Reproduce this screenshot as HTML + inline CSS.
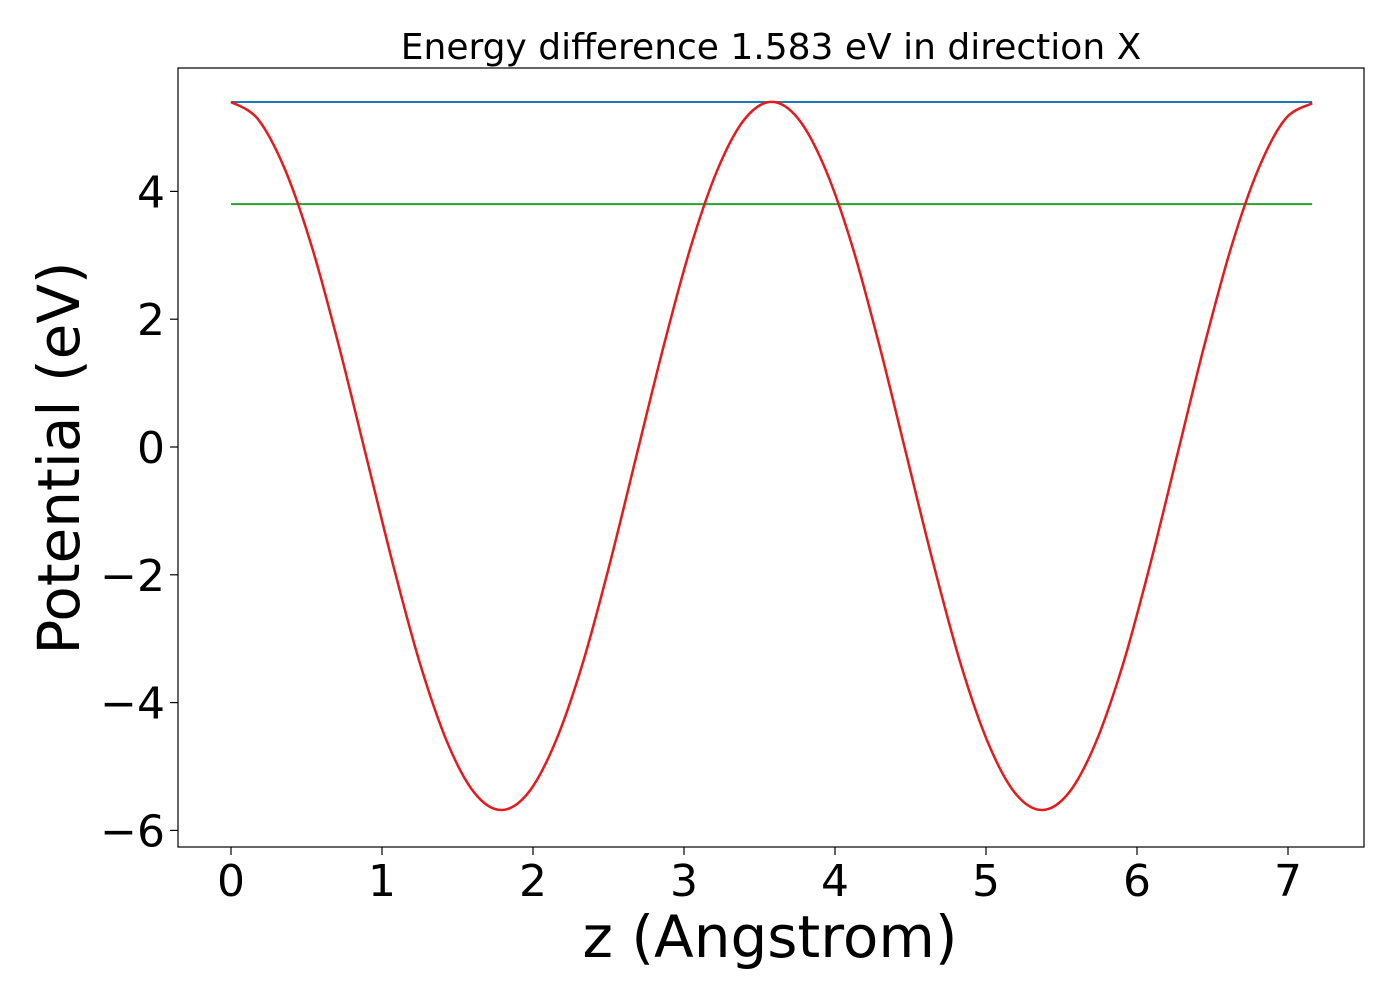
<!DOCTYPE html>
<html><head><meta charset="utf-8"><style>
html,body{margin:0;padding:0;background:#fff;}
svg text{font-family:"DejaVu Sans","Liberation Sans",sans-serif;fill:#000;}
</style></head><body>
<svg id="chart" width="1400" height="1000" viewBox="0 0 1400 1000" xmlns="http://www.w3.org/2000/svg">
<rect width="1400" height="1000" fill="#fff"/>
<text x="771" y="59" font-size="36" text-anchor="middle">Energy difference 1.583 eV in direction X</text>
<g id="plot"></g>
<rect x="178" y="68" width="1186" height="779" fill="none" stroke="#000" stroke-width="1.2"/>
<g id="xticks"></g><g id="yticks"></g>
<text x="770" y="957" font-size="58" text-anchor="middle">z (Angstrom)</text>
<text transform="translate(79,458) rotate(-90)" font-size="58" text-anchor="middle">Potential (eV)</text>
</svg>
<script>
const zValues=[0,0.179,0.358,0.537,0.716,0.895,1.074,1.253,1.432,1.611,1.79,1.969,2.148,2.327,2.506,2.685,2.864,3.043,3.222,3.401,3.58,3.759,3.938,4.117,4.296,4.475,4.654,4.833,5.012,5.191,5.37,5.549,5.728,5.907,6.086,6.265,6.444,6.623,6.802,6.981,7.16];
const potential=[5.40,5.13,4.34,3.12,1.57,-0.14,-1.85,-3.40,-4.62,-5.41,-5.68,-5.41,-4.62,-3.40,-1.85,-0.14,1.57,3.12,4.34,5.13,5.40,5.13,4.34,3.12,1.57,-0.14,-1.85,-3.40,-4.62,-5.41,-5.68,-5.41,-4.62,-3.40,-1.85,-0.14,1.57,3.12,4.34,5.13,5.38];
const maxLevel=[5.40];
const refLevel=[3.80];
const xTickLabels=[0,1,2,3,4,5,6,7];
const yTickLabels=[-6,-4,-2,0,2,4];
const NS="http://www.w3.org/2000/svg";
function xs(v){return 231+v*151;}
function ys(v){return 447-v*63.9;}
function mk(tag,attrs,parent){const e=document.createElementNS(NS,tag);for(const k in attrs)e.setAttribute(k,attrs[k]);parent.appendChild(e);return e;}
const plot=document.getElementById('plot');
const zMin=zValues[0],zMax=zValues[zValues.length-1];
let l1=mk('line',{x1:xs(zMin),x2:xs(zMax),y1:ys(maxLevel[0]),y2:ys(maxLevel[0]),stroke:'#1f77b4','stroke-width':2},plot);


let l2=mk('line',{x1:xs(zMin),x2:xs(zMax),y1:ys(refLevel[0]),y2:ys(refLevel[0]),stroke:'#2ca02c','stroke-width':2},plot);


const P=zValues.map((z,i)=>[xs(z),ys(potential[i])]);
let d='M'+P[0][0].toFixed(1)+','+P[0][1].toFixed(1);
for(let i=0;i<P.length-1;i++){
 const p0=P[Math.max(0,i-1)],p1=P[i],p2=P[i+1],p3=P[Math.min(P.length-1,i+2)];
 const c1=[p1[0]+(p2[0]-p0[0])/6,p1[1]+(p2[1]-p0[1])/6];
 const c2=[p2[0]-(p3[0]-p1[0])/6,p2[1]-(p3[1]-p1[1])/6];
 d+=' C'+c1[0].toFixed(1)+','+c1[1].toFixed(1)+' '+c2[0].toFixed(1)+','+c2[1].toFixed(1)+' '+p2[0].toFixed(1)+','+p2[1].toFixed(1);
}
let pl=mk('path',{d:d,fill:'none',stroke:'#e41a1c','stroke-width':2.5,'stroke-linejoin':'round'},plot);


const xg=document.getElementById('xticks');
xTickLabels.forEach(v=>{
 let t=mk('line',{x1:xs(v),x2:xs(v),y1:847,y2:855,stroke:'#000','stroke-width':1.2},xg);
 
 
 let tx=mk('text',{x:xs(v),y:896,'font-size':44,'text-anchor':'middle'},xg);
 tx.textContent=String(v);
 
 
});
const yg=document.getElementById('yticks');
yTickLabels.forEach(v=>{
 let t=mk('line',{x1:170,x2:178,y1:ys(v),y2:ys(v),stroke:'#000','stroke-width':1.2},yg);
 
 
 let tx=mk('text',{x:165,y:ys(v)+16,'font-size':44,'text-anchor':'end'},yg);
 tx.textContent=v<0?'\u2212'+Math.abs(v):String(v);
 
 
});
</script>
</body></html>
